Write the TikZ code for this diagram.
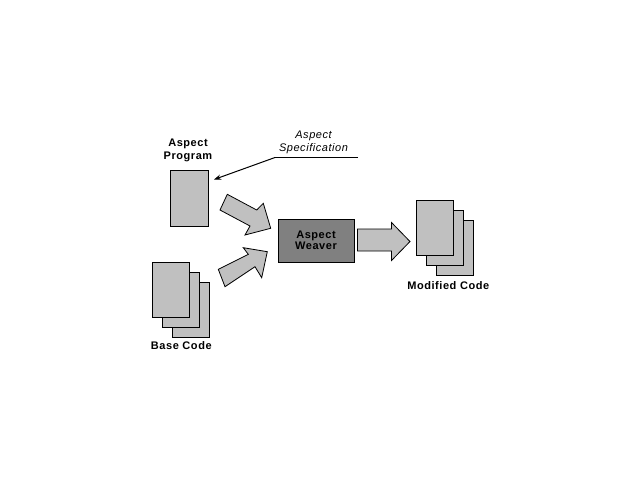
\documentclass[tikz,border=0pt]{standalone}
\usepackage{fontspec}
\setmainfont{Liberation Sans}[LetterSpace=5]
\usetikzlibrary{arrows.meta}
\definecolor{lgray}{HTML}{C0C0C0}
\definecolor{dgray}{HTML}{808080}
\begin{document}
\begin{tikzpicture}[x=1pt,y=-1pt,line width=1pt,
  page/.style={draw=black,fill=lgray,line width=1pt,minimum width=37pt,minimum height=55pt,anchor=north west,inner sep=0pt,outer sep=0pt},
  fat/.style={draw=black,fill=lgray,line width=0.8pt,line join=miter},
  lbl/.style={font=\fontsize{11}{13.3}\selectfont\bfseries,inner sep=0pt,align=center},
  ilbl/.style={font=\fontsize{11}{13}\selectfont\itshape,inner sep=0pt,align=center},
  wlbl/.style={font=\fontsize{11}{11.7}\selectfont\bfseries,inner sep=0pt,align=center}]
\useasboundingbox (0,0) rectangle (640,480);
\fill[white] (0,0) rectangle (640,480);
% Aspect program
\node[page,minimum width=38pt,minimum height=56pt] (ap) at (170,170) {};
\node[lbl,anchor=north] (aplbl) at (188,138) {Aspect\\Program};
% Base code pages
\node[page] (bc3) at (172,282) {};
\node[page] (bc2) at (162,272) {};
\node[page] (bc1) at (152,262) {};
\node[lbl,anchor=base] (bclbl) at (181.3,349.5) {Base Code};
% Aspect weaver
\node[draw=black,fill=dgray,minimum width=76pt,minimum height=43pt,anchor=north west,inner sep=0pt] (aw) at (278,219) {};
\node[wlbl,anchor=north] (awlbl) at (316,230) {Aspect\\Weaver};
% Modified code pages
\node[page] (mc3) at (436,220) {};
\node[page] (mc2) at (426,210) {};
\node[page] (mc1) at (416,200) {};
\node[lbl,anchor=base] (mclbl) at (448.3,289.5) {Modified Code};
% Specification label and arrow
\node[ilbl,anchor=north] (spec) at (313.5,130) {Aspect\\Specification};
\coordinate (specR) at (358,157.5);
\coordinate (specL) at (275,157.5);
\coordinate (specTip) at (214,179.5);
\draw (specR) -- (specL);
\draw[-{Stealth[length=7pt,width=5pt]}] (specL) -- (specTip);
% Fat arrows
\draw[fat] (220,210) -- (227.3,194.3) -- (256.7,210) -- (263.3,203.3) -- (270.7,228.3) -- (245,235) -- (250,226) -- cycle;
\draw[fat] (218.3,269.3) -- (248.3,254.3) -- (243.3,247.7) -- (267.3,251.7) -- (261.7,277.7) -- (255,266.7) -- (225,286.7) -- cycle;
\draw[fat] (357.5,229) -- (391.5,229) -- (391.5,222.5) -- (410,241.5) -- (391.5,260.5) -- (391.5,251) -- (357.5,251) -- cycle;
\end{tikzpicture}
\end{document}
